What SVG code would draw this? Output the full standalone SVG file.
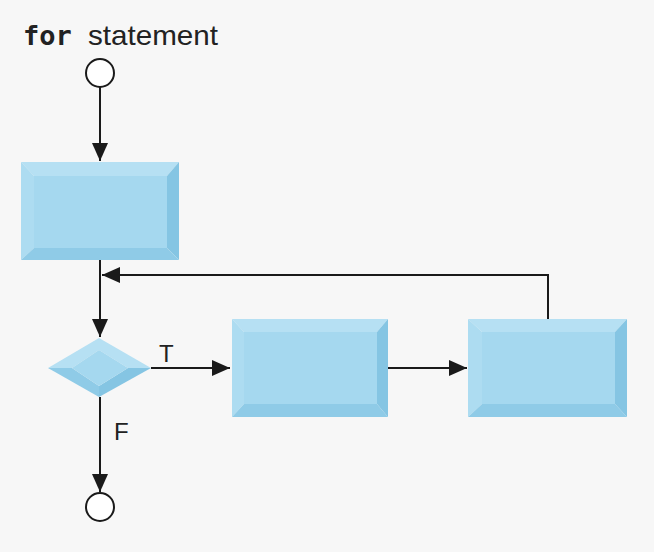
<svg xmlns="http://www.w3.org/2000/svg" width="654" height="552" viewBox="0 0 654 552">
<style>
.lbl{font-family:"Liberation Sans",Arial,sans-serif;fill:#222}
.mono{font-family:"DejaVu Sans Mono","Liberation Mono",monospace;font-weight:bold;fill:#222}
.ln{stroke:#1a1a1a;stroke-width:2;fill:none}
.circ{fill:#fff;stroke:#1a1a1a;stroke-width:2}
.in{fill:#a5d8ef}
.tp{fill:#b6e0f3}
.lf{fill:#addcf1}
.rt{fill:#85c5e3}
.bt{fill:#8fcbe7}
</style>
<defs>
<marker id="ah" markerUnits="userSpaceOnUse" markerWidth="20" markerHeight="16" refX="18" refY="8" orient="auto">
<path d="M0,0 L18,8 L0,16 Z" fill="#1a1a1a"/>
</marker>
</defs>
<rect width="654" height="552" fill="#f7f7f7"/>
<text class="mono" x="23" y="45" font-size="27">for</text>
<text class="lbl" x="88" y="45" font-size="28" textLength="130" lengthAdjust="spacingAndGlyphs">statement</text>
<g id="connectors">
<line class="ln" x1="100" y1="87" x2="100" y2="161" marker-end="url(#ah)"/>
<line class="ln" x1="100" y1="260" x2="100" y2="337" marker-end="url(#ah)"/>
<polyline class="ln" points="548,319 548,275 102,275" marker-end="url(#ah)"/>
<line class="ln" x1="151" y1="368" x2="230" y2="368" marker-end="url(#ah)"/>
<line class="ln" x1="388" y1="368" x2="467" y2="368" marker-end="url(#ah)"/>
<line class="ln" x1="100" y1="397" x2="100" y2="492" marker-end="url(#ah)"/>
<text class="lbl" x="159" y="362" font-size="24">T</text>
<text class="lbl" x="114" y="440" font-size="24">F</text>
</g>
<g id="start"><circle class="circ" cx="100" cy="73" r="14"/></g>
<g id="init">
<polygon class="tp" points="21,162 179,162 167,176 34,176"/>
<polygon class="lf" points="21,162 34,176 34,248 21,260"/>
<polygon class="rt" points="179,162 179,260 167,248 167,176"/>
<polygon class="bt" points="21,260 34,248 167,248 179,260"/>
<rect class="in" x="34" y="176" width="133" height="72"/>
</g>
<g id="decision">
<polygon class="tp" points="48,368 99,338 99,350 72,368"/>
<polygon class="tp" points="99,338 151,368 128,368 99,350"/>
<polygon class="bt" points="48,368 72,368 99,386 99,397"/>
<polygon class="rt" points="151,368 99,397 99,386 128,368"/>
<polygon class="in" points="72,368 99,350 128,368 99,386"/>
</g>
<g id="body">
<polygon class="tp" points="232,319 388,319 377,332 244,332"/>
<polygon class="lf" points="232,319 244,332 244,404 232,417"/>
<polygon class="rt" points="388,319 388,417 377,404 377,332"/>
<polygon class="bt" points="232,417 244,404 377,404 388,417"/>
<rect class="in" x="244" y="332" width="133" height="72"/>
</g>
<g id="increment">
<polygon class="tp" points="468,319 627,319 615,332 482,332"/>
<polygon class="lf" points="468,319 482,332 482,404 468,417"/>
<polygon class="rt" points="627,319 627,417 615,404 615,332"/>
<polygon class="bt" points="468,417 482,404 615,404 627,417"/>
<rect class="in" x="482" y="332" width="133" height="72"/>
</g>
<g id="end"><circle class="circ" cx="100" cy="507" r="14"/></g>
</svg>
